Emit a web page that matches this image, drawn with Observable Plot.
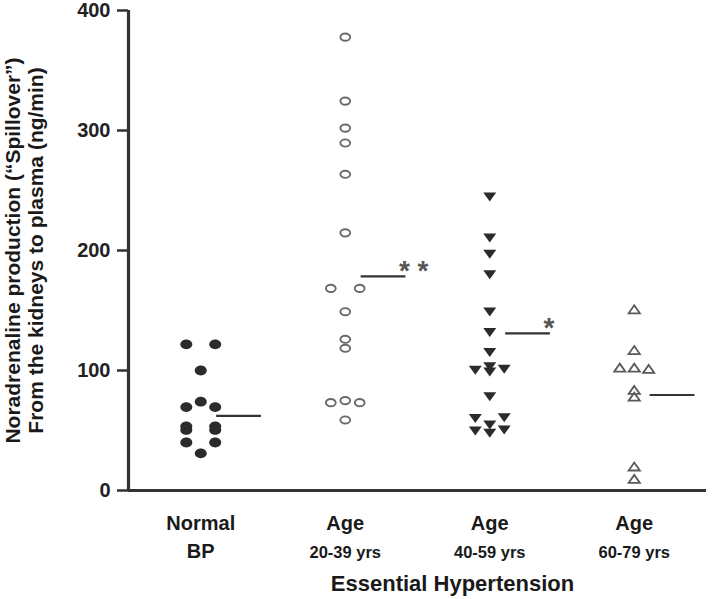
<!DOCTYPE html>
<html>
<head>
<meta charset="utf-8">
<script src="https://cdn.jsdelivr.net/npm/d3@7"></script>
<script src="https://cdn.jsdelivr.net/npm/@observablehq/plot@0.6"></script>
<style>
  html, body { margin: 0; padding: 0; background: #fff; }
  #chart svg { display: block; }
</style>
</head>
<body>
<div id="chart"></div>
<script>
// ---- data ----
const groups = ["Normal BP", "Age 20-39 yrs", "Age 40-59 yrs", "Age 60-79 yrs"];
const labelLine1 = ["Normal", "Age", "Age", "Age"];
const labelLine2 = ["BP", "20-39 yrs", "40-59 yrs", "60-79 yrs"];
const xTitle = "Essential Hypertension";
const yTitle = "Noradrenaline production (\u201CSpillover\u201D)\nFrom the kidneys to plasma (ng/min)";
const yTicks = [0, 100, 200, 300, 400];

// noradrenaline spillover values (ng/min) and dot-plot column within each group
const normalVals = [121.8, 121.8, 100, 74, 69.5, 69.5, 53.5, 50.5, 53.5, 50.5, 40, 40, 31];
const normalCols = [-1, 1, 0, 0, -1, 1, -1, -1, 1, 1, -1, 1, 0];
const age20Vals = [377.8, 324.5, 302, 289.6, 263.5, 214.7, 168.4, 168.4, 149, 126, 118.5, 73.2, 74.9, 73.2, 58.8];
const age20Cols = [0, 0, 0, 0, 0, 0, -1, 1, 0, 0, 0, -1, 0, 1, 0];
const age40Vals = [244.7, 210.5, 197, 180, 149, 131.8, 115.2, 103.2, 100.4, 99, 101.3, 78.2, 60.2, 60.7, 54.7, 49.7, 47.8, 50.6];
const age40Cols = [0, 0, 0, 0, 0, 0, 0, 0, -1, 0, 1, 0, -1, 1, 0, -1, 0, 1];
const age60Vals = [151, 117, 102.4, 102.4, 101.3, 83.8, 78.2, 20, 9.7];
const age60Cols = [0, 0, -1, 0, 1, 0, 0, 0, 0];

const groupMeans = [62.2, 178.5, 131, 79.6];
const significance = ["", "* *", "*", ""];

// ---- build tables ----
const valsByGroup = [normalVals, age20Vals, age40Vals, age60Vals];
const colsByGroup = [normalCols, age20Cols, age40Cols, age60Cols];
const points = valsByGroup.flatMap((vals, gi) =>
  vals.map((v, k) => ({gi, group: groups[gi], value: v, col: colsByGroup[gi][k]})));
const groupTable = groups.map((g, gi) => ({
  gi, group: g, l1: labelLine1[gi], l2: labelLine2[gi], mean: groupMeans[gi], sig: significance[gi]
}));

// ---- marker shapes ----
const K = 0.5523;
function ellipsePath(ctx, rx, ry) {
  ctx.moveTo(rx, 0);
  ctx.bezierCurveTo(rx, ry * K, rx * K, ry, 0, ry);
  ctx.bezierCurveTo(-rx * K, ry, -rx, ry * K, -rx, 0);
  ctx.bezierCurveTo(-rx, -ry * K, -rx * K, -ry, 0, -ry);
  ctx.bezierCurveTo(rx * K, -ry, rx, -ry * K, rx, 0);
  ctx.closePath();
}
const filledEllipse = {draw(ctx) { ellipsePath(ctx, 6, 4.9); }};
const hollowEllipse = {draw(ctx) { ellipsePath(ctx, 4.9, 3.6); }};
const triDown = {draw(ctx) { ctx.moveTo(-6.5, -4.3); ctx.lineTo(6.5, -4.3); ctx.lineTo(0, 4.7); ctx.closePath(); }};
const triUp = {draw(ctx) { ctx.moveTo(0, -4); ctx.lineTo(5.6, 4); ctx.lineTo(-5.6, 4); ctx.closePath(); }};

const colStep = 0.1;   // spacing of dot-plot columns in category units
const xPos = d => d.gi + d.col * colStep;
const font = "Liberation Sans, Arial, Helvetica, sans-serif";
const dark = "#2b2b2b";

const chart = Plot.plot({
  width: 713,
  height: 599,
  marginLeft: 128,
  marginRight: 7,
  marginTop: 10,
  marginBottom: 109,
  style: {fontFamily: font, background: "#fff"},
  x: {domain: [-0.5, 3.5], axis: null},
  y: {domain: [0, 400], axis: null},
  marks: [
    // axes
    Plot.axisY({ticks: yTicks, tickSize: 11, tickPadding: 7, fontSize: 20, fontWeight: "bold",
      stroke: "#333", strokeWidth: 2.5, color: "#222", label: null, tickFormat: d => String(d)}),
    Plot.ruleX([-0.5], {y1: 0, y2: 400, stroke: "#333", strokeWidth: 3.2}),
    Plot.ruleY([0], {x1: -0.5, x2: 3.5, stroke: "#333", strokeWidth: 3.2}),

    // points
    Plot.dot(points.filter(d => d.gi === 0), {x: xPos, y: "value", symbol: filledEllipse, r: 6, fill: dark, stroke: "none"}),
    Plot.dot(points.filter(d => d.gi === 1), {x: xPos, y: "value", symbol: hollowEllipse, r: 5, fill: "none", stroke: "#6a6a6a", strokeWidth: 1.9}),
    Plot.dot(points.filter(d => d.gi === 2), {x: xPos, y: "value", symbol: triDown, r: 6, fill: dark, stroke: "none"}),
    Plot.dot(points.filter(d => d.gi === 3), {x: xPos, y: "value", symbol: triUp, r: 6, fill: "none", stroke: "#5a5a5a", strokeWidth: 1.8}),

    // mean lines
    Plot.ruleY(groupTable, {y: "mean", x1: d => d.gi + 0.11, x2: d => d.gi + 0.42, stroke: "#333", strokeWidth: 2.2}),
    // significance stars
    Plot.text(groupTable.filter(d => d.sig), {x: d => d.gi + 0.42, y: "mean", text: "sig", textAnchor: "start",
      lineAnchor: "bottom", dx: -7, dy: 4, fontSize: 28, fill: "#555", fontWeight: "bold"}),

    // category labels
    Plot.text(groupTable, {x: "gi", text: "l1", frameAnchor: "bottom", lineAnchor: "bottom", dy: 39,
      fontSize: 20, fontWeight: "bold", fill: "#1a1a1a"}),
    Plot.text(groupTable, {x: "gi", text: "l2", frameAnchor: "bottom", lineAnchor: "bottom", dy: 67,
      fontSize: d => d.gi === 0 ? 20 : 16.5, fontWeight: "bold", fill: "#1a1a1a"}),
    // x title
    Plot.text([xTitle], {frameAnchor: "bottom", lineAnchor: "bottom", dx: 35, dy: 100,
      fontSize: 22, fontWeight: "bold", fill: "#1a1a1a"}),
    // y title
    Plot.text([yTitle], {frameAnchor: "left", textAnchor: "middle", dx: -104, rotate: -90, lineHeight: 1.1,
      fontSize: 21, fontWeight: "bold", fill: "#1a1a1a"})
  ]
});
document.getElementById("chart").appendChild(chart);
</script>
</body>
</html>
